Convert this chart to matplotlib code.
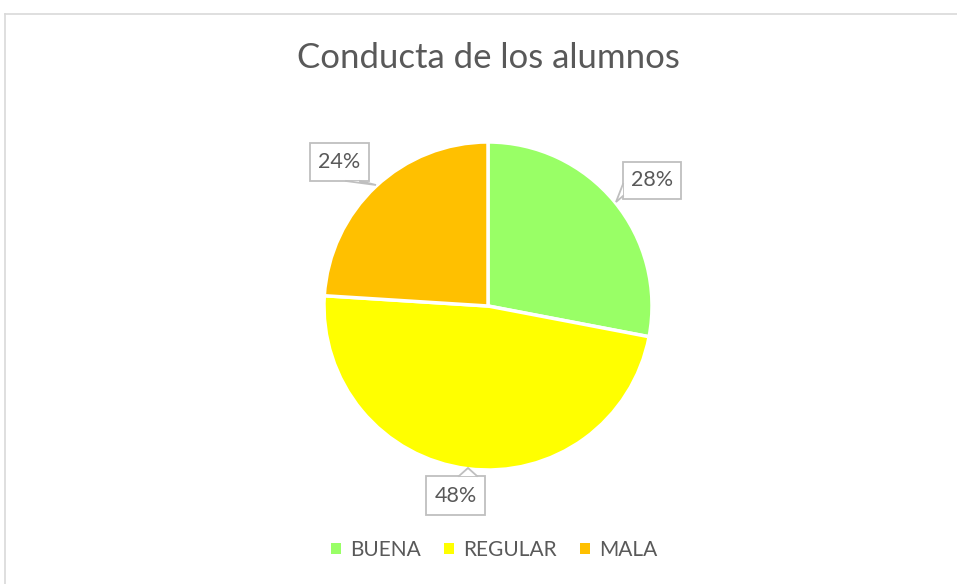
import matplotlib

matplotlib.use("Agg")
import matplotlib.pyplot as plt
from matplotlib.lines import Line2D
from matplotlib.patches import Rectangle, Polygon

# data
categories = ["BUENA", "REGULAR", "MALA"]
shares = [28, 48, 24]
colors = ["#99FF66", "#FFFF00", "#FFC000"]
title = "Conducta de los alumnos"

TEXT = "#595959"
BOX_EDGE = "#BFBFBF"
FONT = ["Lato", "DejaVu Sans"]

W, H = 957, 584
fig = plt.figure(figsize=(W / 100, H / 100), dpi=100)

# pie centre / radius in pixels (from top-left)
CX, CY, R = 488, 306, 164
HALF = 1.3
side = 2 * R * HALF
ax = fig.add_axes([(CX - side / 2) / W, (H - CY - side / 2) / H, side / W, side / H])
ax.pie(shares, colors=colors, startangle=90, counterclock=False, radius=1.0,
       wedgeprops=dict(edgecolor="white", linewidth=2.5))
ax.set_xlim(-HALF, HALF)
ax.set_ylim(-HALF, HALF)
ax.set_aspect("equal")
ax.axis("off")


def px(x, y):
    """pixel position (top-left origin) -> pie data coords"""
    return ((x - CX) / R, (CY - y) / R)


def callout(text, box, pointer):
    """box = (x0, y0, x1, y1) in px; pointer = (base_a, tip, base_b) in px"""
    x0, y0, x1, y1 = box
    (ax0, ay0) = px(x0, y1)
    (ax1, ay1) = px(x1, y0)
    ax.add_patch(Rectangle((ax0, ay0), ax1 - ax0, ay1 - ay0, facecolor="white",
                           edgecolor=BOX_EDGE, linewidth=1.3, zorder=5))
    pts = [px(*p) for p in pointer]
    ax.add_patch(Polygon(pts, closed=True, facecolor="white", edgecolor="none",
                         zorder=6))
    ax.add_line(Line2D([p[0] for p in pts], [p[1] for p in pts], color=BOX_EDGE,
                       linewidth=1.3, zorder=7, solid_joinstyle="miter"))
    cx, cy = px((x0 + x1) / 2, (y0 + y1) / 2)
    ax.text(cx, cy, text, ha="center", va="center", fontsize=15.5, color=TEXT,
            family=FONT, zorder=8)


# label layout (px)
callout(f"{shares[0]}%", (623, 162, 681, 199),
        [(623, 184), (616, 202), (623, 196)])
callout(f"{shares[1]}%", (426, 476, 485, 515),
        [(459, 476), (468, 468), (477, 476)])
callout(f"{shares[2]}%", (310, 143, 369, 181),
        [(346, 181), (376, 185), (360, 181)])

fig.text(CX / W, 1 - 58 / H, title, ha="center", va="center", fontsize=25,
         color=TEXT, family=FONT)

handles = [Rectangle((0, 0), 1, 1, facecolor=c, edgecolor="none") for c in colors]
leg = fig.legend(handles, categories, loc="center", bbox_to_anchor=(494 / W, 1 - 550 / H),
                 ncol=3, frameon=False, handlelength=0.48, handleheight=0.48,
                 handletextpad=0.45, columnspacing=1.1,
                 prop=dict(family=FONT, size=15))
for t in leg.get_texts():
    t.set_color(TEXT)

# chart border (only top and left visible in the crop)
fig.add_artist(Line2D([4.5 / W, 1], [1 - 13.5 / H, 1 - 13.5 / H], color="#D9D9D9",
                      linewidth=1.2, transform=fig.transFigure))
fig.add_artist(Line2D([4.5 / W, 4.5 / W], [0, 1 - 13.5 / H], color="#D9D9D9",
                      linewidth=1.2, transform=fig.transFigure))

fig.savefig("out.png", dpi=100, facecolor="white")
